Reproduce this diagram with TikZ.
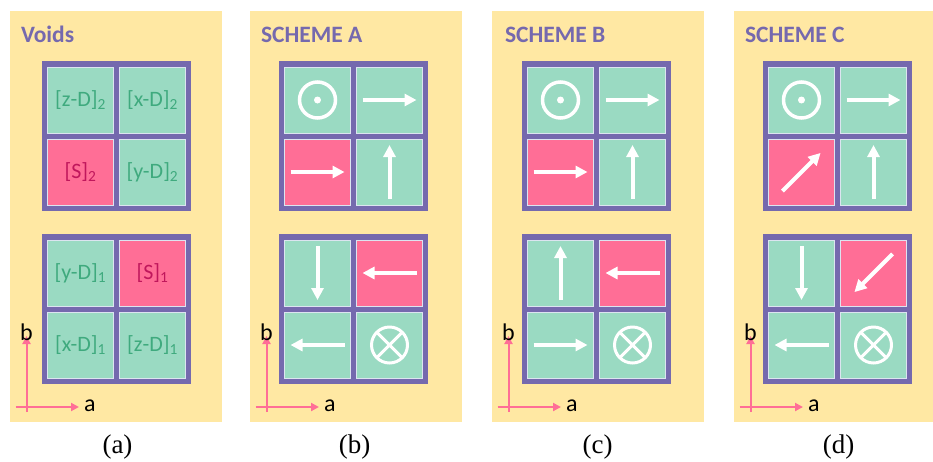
\documentclass[tikz,border=0pt]{standalone}
\usepackage{fontspec}
\setmainfont{Liberation Serif}
\newfontfamily\calib{Carlito}
\usepackage{tikz}
\usetikzlibrary{arrows.meta,positioning}
\definecolor{Sand}{HTML}{FFE8A3}
\definecolor{Frame}{HTML}{7569AE}
\definecolor{Mint}{HTML}{9ADAC2}
\definecolor{Rose}{HTML}{FF6E96}
\definecolor{MintText}{HTML}{3FAA7E}
\definecolor{RoseText}{HTML}{C0175C}
\definecolor{Rim}{HTML}{DCE4F0}

\begin{document}
\begin{tikzpicture}[x=1pt, y=-1pt, every node/.style={inner sep=0pt, outer sep=0pt}]
\tikzset{panel/.style={fill=Sand, minimum width=212pt, minimum height=411pt, anchor=north west}}
\tikzset{frame/.style={fill=Frame, minimum width=149pt, minimum height=150pt}}
\tikzset{cell/.style={fill=Mint, draw=Rim, line width=0.8pt, minimum size=66pt}}
\tikzset{hot/.style={cell, fill=Rose}}
\tikzset{title/.style={anchor=base west, text=Frame, font=\calib\bfseries\fontsize{23.5}{26}\selectfont}}
\tikzset{void/.style={text=MintText, font=\calib\fontsize{22}{24}\selectfont}}
\tikzset{axis/.style={draw=Rose, line width=2pt, -{Triangle[length=8pt, width=8pt]}}}
\tikzset{tag/.style={font=\calib\fontsize{24}{26}\selectfont}}
\tikzset{spin/.pic={\draw[white, line width=4pt, -{Triangle[length=12pt, width=12pt]}] (-27,0) -- (27,0);}}
\tikzset{dotout/.pic={\draw[white, line width=3.5pt] (0,0) circle (18); \fill[white] (0,0) circle (3.5);}}
\tikzset{crossin/.pic={\draw[white, line width=3pt] (0,0) circle (18) (-12.7,-12.7) -- (12.7,12.7) (-12.7,12.7) -- (12.7,-12.7);}}
\useasboundingbox (0,0) rectangle (933,461);

% panels, frames and cells
\foreach \p/\l/\x/\w/\name in {a/10/116.5/212/(a), b/250/353.5/212/(b), c/492/596.5/212/(c), d/734/837.5/199/(d)} {
  \node[panel, minimum width=\w pt] (\p) at (\l,11) {};
  \foreach \blk/\y in {u/136, l/309} {
    \node[frame] (\p\blk) at (\x,\y) {};
    \node[cell] (\p\blk-nw) at (\x-36,\y-36) {};
    \node[cell] (\p\blk-se) at (\x+36,\y+36) {};
  }
  \node[hot] (\p u-sw) at (\x-36,172) {};
  \node[cell] (\p u-ne) at (\x+36,100) {};
  \node[cell] (\p l-sw) at (\x-36,345) {};
  \node[hot] (\p l-ne) at (\x+36,273) {};
  % axes
  \coordinate (\p-o) at (\l+16.5,407);
  \coordinate (\p-ax) at (\l+69,407);
  \coordinate (\p-bx) at (\l+16.5,336);
  \draw[axis] ([xshift=-11pt]\p-o) -- (\p-ax);
  \draw[axis] ([yshift=-5pt]\p-o) -- (\p-bx);
  \node[tag, anchor=west, xshift=5pt, yshift=1pt] at (\p-ax) {a};
  \node[tag, anchor=south, yshift=-5pt] at (\p-bx) {b};
  \node[anchor=base, font=\fontsize{27}{30}\selectfont] (\p-cap) at (\x+1,453) {\name};
}

% titles
\node[title] at (21,42) {Voids};
\node[title] at (261,42) {SCHEME A};
\node[title] at (505,42) {SCHEME B};
\node[title] at (745,42) {SCHEME C};

% voids
\node[void] at (au-nw) {[z-D]\textsubscript{2}};
\node[void] at (au-ne) {[x-D]\textsubscript{2}};
\node[void, text=RoseText] at (au-sw) {[S]\textsubscript{2}};
\node[void] at (au-se) {[y-D]\textsubscript{2}};
\node[void] at (al-nw) {[y-D]\textsubscript{1}};
\node[void, text=RoseText] at (al-ne) {[S]\textsubscript{1}};
\node[void] at (al-sw) {[x-D]\textsubscript{1}};
\node[void] at (al-se) {[z-D]\textsubscript{1}};

% scheme A
\pic at (bu-nw) {dotout};
\pic at (bu-ne) {spin};
\pic at (bu-sw) {spin};
\pic[rotate=90] at (bu-se) {spin};
\pic[rotate=-90] at (bl-nw) {spin};
\pic[rotate=180] at (bl-ne) {spin};
\pic[rotate=180] at (bl-sw) {spin};
\pic at (bl-se) {crossin};

% scheme B
\pic at (cu-nw) {dotout};
\pic at (cu-ne) {spin};
\pic at (cu-sw) {spin};
\pic[rotate=90] at (cu-se) {spin};
\pic[rotate=90] at (cl-nw) {spin};
\pic[rotate=180] at (cl-ne) {spin};
\pic at (cl-sw) {spin};
\pic at (cl-se) {crossin};

% scheme C
\pic at (du-nw) {dotout};
\pic at (du-ne) {spin};
\pic[rotate=45] at (du-sw) {spin};
\pic[rotate=90] at (du-se) {spin};
\pic[rotate=-90] at (dl-nw) {spin};
\pic[rotate=225] at (dl-ne) {spin};
\pic[rotate=180] at (dl-sw) {spin};
\pic at (dl-se) {crossin};
\end{tikzpicture}
\end{document}
